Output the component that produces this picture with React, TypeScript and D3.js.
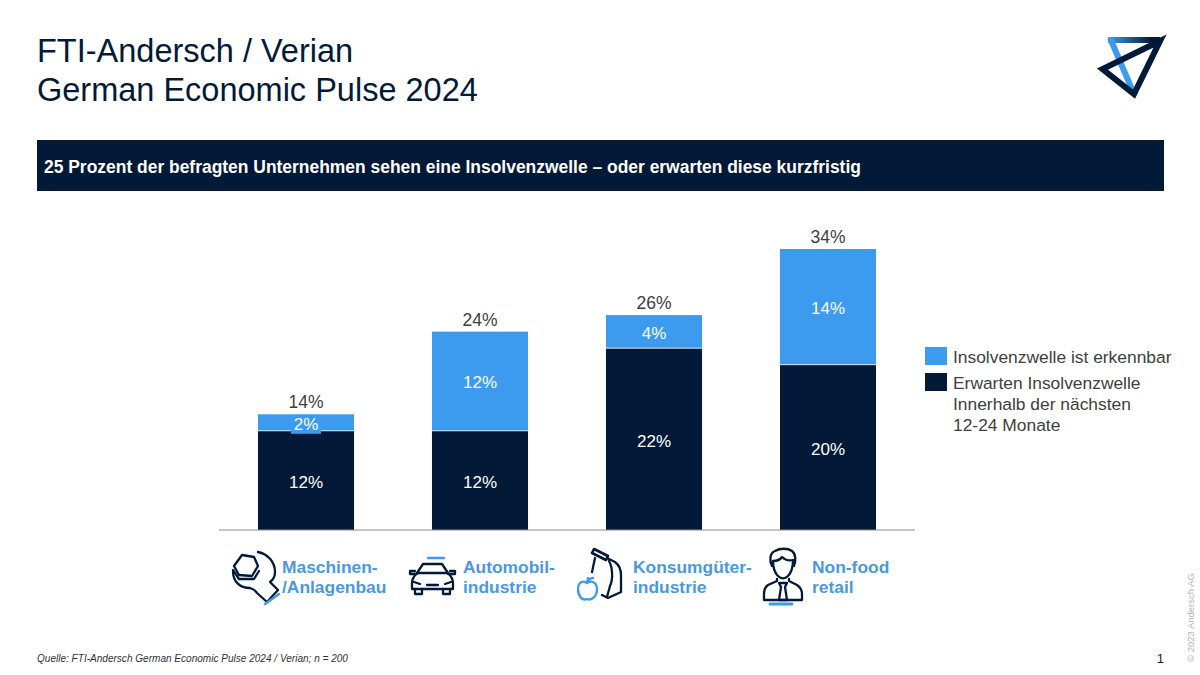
import React from "react";
import * as d3 from "d3";

const NAVY = "#021a38";
const BLUE = "#3d9bef";
const LABEL_BLUE = "#4a98e4";

const categories = ["Maschinen", "Automobil", "Konsumgueter", "Nonfood"];
const lowerValues = [12, 12, 22, 20];
const upperValues = [2, 12, 4, 14];
const totals = [14, 24, 26, 34];
const categoryLabels = [
  ["Maschinen-", "/Anlagenbau"],
  ["Automobil-", "industrie"],
  ["Konsumgüter-", "industrie"],
  ["Non-food", "retail"],
];
const labelX = [282, 463, 633, 812];

const legendItems = [
  { color: BLUE, lines: ["Insolvenzwelle ist erkennbar"] },
  { color: NAVY, lines: ["Erwarten Insolvenzwelle", "Innerhalb der nächsten", "12-24 Monate"] },
];

const x = d3.scaleBand<string>().domain(categories).range([219, 915]).paddingInner(0.448).paddingOuter(0.224);
const y = d3.scaleLinear().domain([0, 34]).range([530, 249]);

const Logo = () => (
  <g fill="none" strokeWidth={6} strokeMiterlimit={10}>
    <defs>
      <linearGradient id="logoTop" x1="1108" x2="1166" y1="0" y2="0" gradientUnits="userSpaceOnUse">
        <stop offset="0" stopColor={BLUE} />
        <stop offset="0.75" stopColor={NAVY} />
      </linearGradient>
    </defs>
    <path d="M1108 40L1160 40" stroke="url(#logoTop)" />
    <path d="M1110 38L1134 94" stroke={BLUE} />
    <path d="M1160 41L1102.5 69L1134 94Z" stroke={NAVY} />
  </g>
);

// Hand drawn pictograms, each one sits next to its category label
const WrenchIcon = () => (
  <g fill="none" stroke={NAVY} strokeWidth={2.3} strokeLinejoin="round" strokeLinecap="round">
    <path d="M258 552C268 554 275 562 275 572C275 577 273 580 270 582L278 590L267 602L257 593C255 590 254 589 250 588C240 588 233 582 233 571" />
    <path d="M234 566L242 555L254 557L258 566L252 576L239 575Z" />
    <path d="M233 570L239 579L254 579L259 571" />
    <path d="M265 604L279 594" stroke={BLUE} strokeWidth={2.4} />
  </g>
);

const CarIcon = () => (
  <g fill="none" stroke={NAVY} strokeWidth={2.3} strokeLinejoin="round" strokeLinecap="round">
    <path d="M428 558H444" stroke={BLUE} strokeWidth={2.4} />
    <path d="M417 573L423 564H442L448 573Z" />
    <path d="M417 573C414 576 412 579 412 583V589H453V583C453 579 451 576 448 573" />
    <path d="M417 574L410 574V571H415M448 574L455 574V571H450" />
    <path d="M415 589V594H422V589M443 589V594H450V589" />
    <path d="M414 582L420 584M451 582L445 584M427 585H438" />
  </g>
);

const BagIcon = () => (
  <g fill="none" strokeWidth={2.3} strokeLinejoin="round" strokeLinecap="round">
    <g stroke={NAVY}>
      <path d="M594 549L608 556L606 560L592 553Z" strokeWidth={2.6} />
      <path d="M595 558L592 572" />
      <path d="M607 558L615 562C619 565 621 570 621 575V592L608 598L602 595" />
      <path d="M609 561C613 568 613 580 610 586L607 597" />
    </g>
    <g stroke={BLUE}>
      <path d="M587 583C583 580 578 582 578 589C578 596 582 601 587 599C592 601 597 596 597 589C597 582 591 580 587 583Z" />
      <path d="M587 583L588 578M588 581C590 578 592 578 593 578" />
    </g>
  </g>
);

const PersonIcon = () => (
  <g fill="none" stroke={NAVY} strokeWidth={2.3} strokeLinejoin="round" strokeLinecap="round">
    <path d="M772 566C769 560 770 553 775 551C780 548 788 548 792 551C796 554 796 561 794 566" />
    <path d="M773 561C773 566 774 572 778 576C781 579 785 579 788 576C792 572 793 566 793 560C789 561 785 560 782 557C780 560 776 561 773 561Z" />
    <path d="M777 579V581L768 585C765 587 764 590 764 594V600H802V594C802 590 800 587 797 585L789 581V579" />
    <path d="M779 583H787L785 587L787 600H779L781 587Z" />
    <path d="M770 604H792" stroke={BLUE} strokeWidth={2.8} />
  </g>
);

const icons = [WrenchIcon, CarIcon, BagIcon, PersonIcon];

export default function App() {
  return (
    <svg
      width={1200}
      height={675}
      viewBox="0 0 1200 675"
      style={{ position: "fixed", left: 0, top: 0, background: "#fff", fontFamily: "'Liberation Sans', Arial, sans-serif" }}
    >
      <text x={37} y={62} fontSize={32.5} fill={NAVY}>FTI-Andersch / Verian</text>
      <text x={37} y={100.5} fontSize={32.5} fill={NAVY}>German Economic Pulse 2024</text>
      <Logo />

      <rect x={37} y={140} width={1127} height={51} fill={NAVY} />
      <text x={44} y={173} fontSize={17.45} fontWeight="bold" fill="#fff">
        25 Prozent der befragten Unternehmen sehen eine Insolvenzwelle – oder erwarten diese kurzfristig
      </text>

      {categories.map((c, i) => {
        const bx = x(c)!;
        const cx = bx + x.bandwidth() / 2;
        const yLow = y(lowerValues[i]);
        const yTop = y(lowerValues[i] + upperValues[i]);
        const small = upperValues[i] < 3;
        return (
          <g key={c}>
            <rect x={bx} y={yLow} width={x.bandwidth()} height={y(0) - yLow} fill={NAVY} />
            <rect x={bx} y={yTop} width={x.bandwidth()} height={yLow - yTop} fill={BLUE} />
            <line x1={bx} x2={bx + x.bandwidth()} y1={yLow} y2={yLow} stroke="#fff" strokeWidth={1} opacity={0.75} />
            <text x={cx} y={(yLow + y(0)) / 2 + 8} textAnchor="middle" fontSize={17} fill="#fff">{lowerValues[i]}%</text>
            {small && <rect x={cx - 15} y={yTop + 0.5} width={30} height={19} fill={BLUE} />}
            <text x={cx} y={(yTop + yLow) / 2 + 7} textAnchor="middle" fontSize={17} fill="#fff">{upperValues[i]}%</text>
            <text x={cx} y={yTop - 6} textAnchor="middle" fontSize={17.5} fill="#404040">{totals[i]}%</text>
          </g>
        );
      })}
      <line x1={219} x2={915} y1={530} y2={530} stroke="#8c8c8c" strokeWidth={1} />

      {legendItems.map((item, i) => (
        <g key={i}>
          <rect x={925} y={i === 0 ? 347 : 373} width={22} height={18} fill={item.color} />
          {item.lines.map((line, j) => (
            <text key={j} x={953} y={(i === 0 ? 363 : 389) + j * 21} fontSize={17.4} fill="#404040">{line}</text>
          ))}
        </g>
      ))}

      {categoryLabels.map((lines, i) => {
        const Icon = icons[i];
        return (
          <g key={i}>
            <Icon />
            {lines.map((line, j) => (
              <text key={j} x={labelX[i]} y={573 + j * 20} fontSize={17.4} fontWeight="bold" fill={LABEL_BLUE}>{line}</text>
            ))}
          </g>
        );
      })}

      <text x={37} y={662} fontSize={10.05} fontStyle="italic" fill="#333">
        Quelle: FTI-Andersch German Economic Pulse 2024 / Verian; n = 200
      </text>
      <text x={1164} y={663} textAnchor="end" fontSize={13} fill="#222">1</text>
      <text transform="translate(1194,662) rotate(-90)" fontSize={9.5} fill="#b5b5b5">© 2023 Andersch AG</text>
    </svg>
  );
}
